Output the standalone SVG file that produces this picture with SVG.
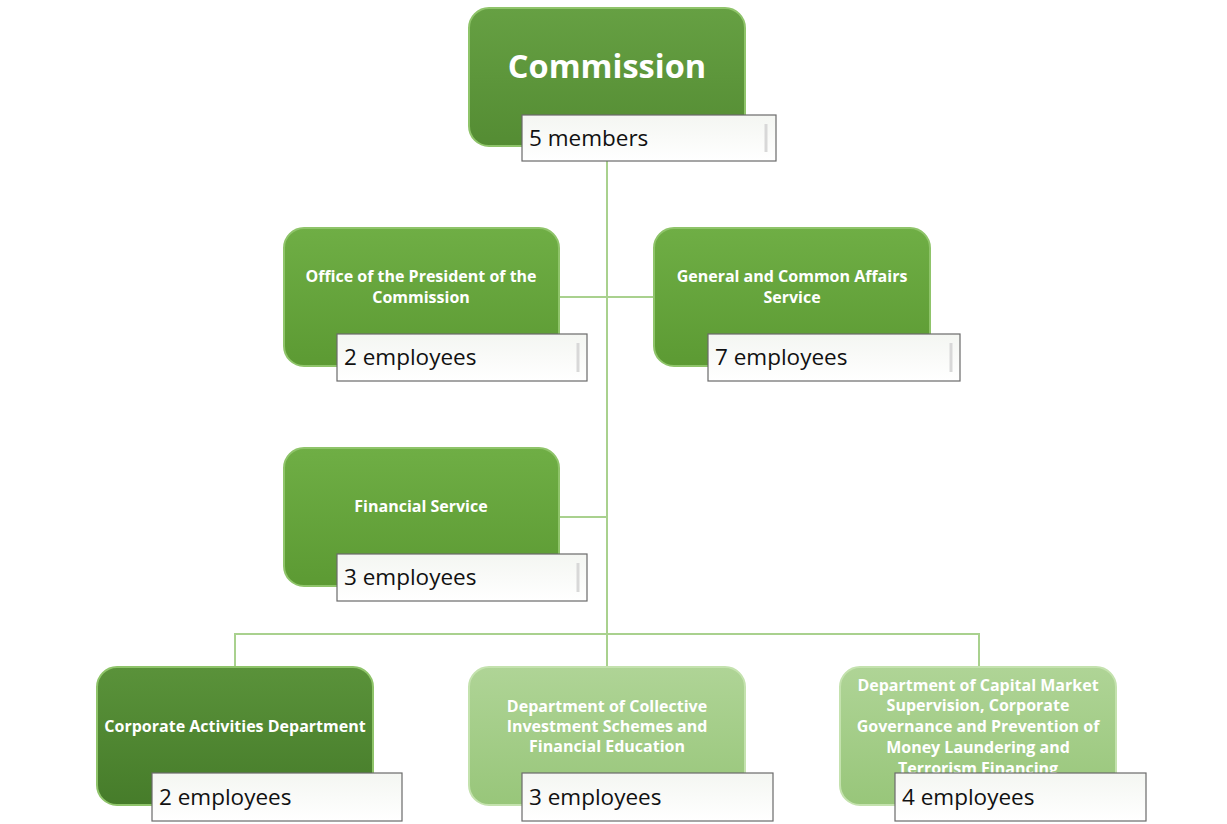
<svg xmlns="http://www.w3.org/2000/svg" width="1227" height="824" viewBox="0 0 1227 824">
<defs>
<linearGradient id="gMid" x1="0" y1="0" x2="0" y2="1"><stop offset="0" stop-color="#6fae45"/><stop offset="1" stop-color="#5c9a33"/></linearGradient>
<linearGradient id="gTop" x1="0" y1="0" x2="0" y2="1"><stop offset="0" stop-color="#66a043"/><stop offset="1" stop-color="#548c33"/></linearGradient>
<linearGradient id="gDark" x1="0" y1="0" x2="0" y2="1"><stop offset="0" stop-color="#5a923a"/><stop offset="1" stop-color="#467c2a"/></linearGradient>
<linearGradient id="gLight" x1="0" y1="0" x2="0" y2="1"><stop offset="0" stop-color="#afd496"/><stop offset="1" stop-color="#98c67a"/></linearGradient>
<linearGradient id="gLab" x1="0" y1="0" x2="0" y2="1"><stop offset="0" stop-color="#f4f6f2"/><stop offset="1" stop-color="#ffffff"/></linearGradient>
</defs>
<style>
.box{stroke:#8fc46a;stroke-width:2}
.lab{fill:url(#gLab);stroke:#6a6a6a;stroke-width:1.2}
.bar{stroke:#d8d8d8;stroke-width:3}
.t{font-family:"Open Sans","Liberation Sans",sans-serif;font-weight:bold;fill:#ffffff;text-anchor:middle;font-size:16px}
.tl{font-family:"Open Sans","Liberation Sans",sans-serif;font-size:22.5px;fill:#111111}
.c{stroke:#a9d18e;stroke-width:2;fill:none}
</style>
<rect width="1227" height="824" fill="#ffffff"/>
<g id="connectors">
<path class="c" d="M607 161V667M559 297H654M559 517H607M235 667V634H979V667"/>
</g>
<g id="commission">
<rect class="box" x="469" y="8" width="276" height="138" rx="20" fill="url(#gTop)"/>
<text class="t" x="607" y="78" style="font-size:32.5px">Commission</text>
<rect class="lab" x="522" y="115" width="254" height="46"/>
<line class="bar" x1="766" y1="124" x2="766" y2="152"/>
<text class="tl" x="529" y="146">5 members</text>
</g>
<g id="office">
<rect class="box" x="284" y="228" width="275" height="138" rx="20" fill="url(#gMid)"/>
<text class="t" x="421" y="282">Office of the President of the</text>
<text class="t" x="421" y="303">Commission</text>
<rect class="lab" x="337" y="334" width="250" height="47"/>
<line class="bar" x1="578" y1="343" x2="578" y2="372"/>
<text class="tl" x="344" y="365">2 employees</text>
</g>
<g id="general">
<rect class="box" x="654" y="228" width="276" height="138" rx="20" fill="url(#gMid)"/>
<text class="t" x="792" y="282">General and Common Affairs</text>
<text class="t" x="792" y="303">Service</text>
<rect class="lab" x="708" y="334" width="252" height="47"/>
<line class="bar" x1="951" y1="343" x2="951" y2="372"/>
<text class="tl" x="715" y="365">7 employees</text>
</g>
<g id="financial">
<rect class="box" x="284" y="448" width="275" height="138" rx="20" fill="url(#gMid)"/>
<text class="t" x="421" y="512">Financial Service</text>
<rect class="lab" x="337" y="554" width="250" height="47"/>
<line class="bar" x1="578" y1="563" x2="578" y2="592"/>
<text class="tl" x="344" y="585">3 employees</text>
</g>
<g id="corporate">
<rect class="box" x="97" y="667" width="276" height="138" rx="20" fill="url(#gDark)"/>
<text class="t" x="235" y="732">Corporate Activities Department</text>
<rect class="lab" x="152" y="773" width="250" height="48"/>
<text class="tl" x="159" y="805">2 employees</text>
</g>
<g id="collective">
<rect class="box" x="469" y="667" width="276" height="138" rx="20" fill="url(#gLight)" style="stroke:#c4e2ae"/>
<text class="t" x="607" y="712">Department of Collective</text>
<text class="t" x="607" y="732">Investment Schemes and</text>
<text class="t" x="607" y="752">Financial Education</text>
<rect class="lab" x="522" y="773" width="251" height="48"/>
<text class="tl" x="529" y="805">3 employees</text>
</g>
<g id="capital">
<rect class="box" x="840" y="667" width="276" height="138" rx="20" fill="url(#gLight)" style="stroke:#c4e2ae"/>
<text class="t" x="978" y="691">Department of Capital Market</text>
<text class="t" x="978" y="711">Supervision, Corporate</text>
<text class="t" x="978" y="732">Governance and Prevention of</text>
<text class="t" x="978" y="753">Money Laundering and</text>
<text class="t" x="978" y="774">Terrorism Financing</text>
<rect class="lab" x="895" y="773" width="251" height="48"/>
<text class="tl" x="902" y="805">4 employees</text>
</g>
</svg>
